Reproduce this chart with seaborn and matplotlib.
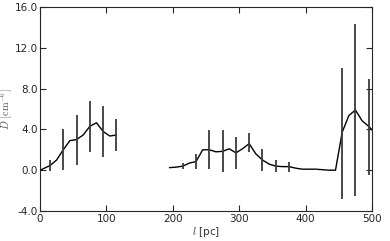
import numpy as np
import pandas as pd
import matplotlib
matplotlib.use("Agg")
import matplotlib.pyplot as plt
import seaborn as sns

# profile, sampled every 10 pc (two gaps-free segments)
l_seg1 = [-5, 5, 15, 25, 35, 45, 55, 65, 75, 85, 95, 105, 115]
d_seg1 = [-0.2, 0.15, 0.45, 1.0, 2.0, 2.9, 3.0, 3.45, 4.3, 4.65, 3.8, 3.35, 3.45]

l_seg2 = [195, 205, 215, 225, 235, 245, 255, 265, 275, 285, 295, 305, 315, 325,
          335, 345, 355, 365, 375, 385, 395, 405, 415, 425, 435, 445, 455, 465,
          475, 485, 495, 505]
d_seg2 = [0.25, 0.3, 0.4, 0.7, 0.85, 2.0, 2.0, 1.8, 1.85, 2.1, 1.7, 2.1, 2.6, 1.6,
          1.0, 0.6, 0.4, 0.35, 0.35, 0.2, 0.1, 0.1, 0.1, 0.05, 0.0, 0.0, 3.7, 5.35,
          5.9, 4.85, 4.3, 3.6]

# error bars every 20 pc
l_err = [15, 35, 55, 75, 95, 115, 215, 235, 255, 275, 295, 315, 335, 355, 375,
         395, 415, 455, 475, 495]
d_err = [0.45, 2.0, 2.95, 4.3, 3.8, 3.45, 0.4, 0.85, 2.0, 1.88, 1.7, 2.7, 1.0,
         0.4, 0.33, 0.1, 0.1, 3.6, 5.9, 4.2]
e_err = [0.55, 2.0, 2.45, 2.5, 2.5, 1.55, 0.3, 0.75, 1.9, 2.06, 1.6, 0.9, 1.05,
         0.6, 0.5, 0.05, 0.05, 6.45, 8.4, 4.7]

df = pd.concat([
    pd.DataFrame({"l": l_seg1, "D": d_seg1, "seg": 1}),
    pd.DataFrame({"l": l_seg2, "D": d_seg2, "seg": 2}),
])

sns.set_style("ticks")
plt.rcParams["mathtext.fontset"] = "cm"
plt.rcParams["font.family"] = ["DejaVu Sans"]

fig = plt.figure(figsize=(3.9, 2.41), dpi=100)
ax = fig.add_axes([0.1026, 0.1245, 0.8513, 0.8465])

sns.lineplot(data=df, x="l", y="D", units="seg", estimator=None,
             color="black", linewidth=1.0, ax=ax)
ax.errorbar(l_err, d_err, yerr=e_err, fmt="none", ecolor="#3a3a3a",
            elinewidth=1.3, capsize=0)

ax.set_xlim(0, 500)
ax.set_ylim(-4, 16)
ax.set_xticks([0, 100, 200, 300, 400, 500])
ax.set_yticks([-4, 0, 4, 8, 12, 16])
ax.set_yticklabels([f"{v:.1f}" for v in [-4, 0, 4, 8, 12, 16]])
ax.tick_params(direction="in", top=True, right=True, length=4, width=0.8,
               labelsize=7.5, pad=2)
ax.tick_params(axis="y", pad=1.5)
for s in ax.spines.values():
    s.set_linewidth(0.8)

ax.set_xlabel(r"$l$ [pc]", fontsize=7.5, labelpad=1, color="#333333")
ax.set_ylabel(r"$D\ [\mathrm{cm}^{-6}]$", fontsize=7.5, color="#555555")
ax.yaxis.set_label_coords(-0.076, 0.5)

fig.savefig("out.png", dpi=100)
